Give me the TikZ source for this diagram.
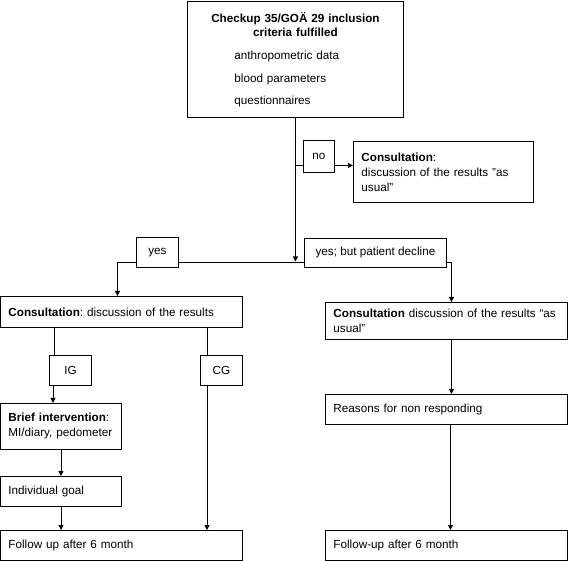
\documentclass[tikz,border=0pt]{standalone}
\usepackage{fontspec}
\setmainfont{Liberation Sans}
\usetikzlibrary{arrows.meta}
\frenchspacing

\begin{document}
\begin{tikzpicture}[
  x=1pt, y=-1pt,
  every node/.style={draw, line width=0.9pt, inner xsep=8pt, inner ysep=3pt,
    font=\fontsize{11.7}{15}\selectfont},
  boxText/.style={anchor=north west, minimum width=#1, text width=#1-16pt, align=left},
  boxLabel/.style={anchor=north west, align=center, inner xsep=0pt},
  arrowLine/.style={line width=0.9pt, -{Triangle[length=5pt,width=5pt]}},
  plainLine/.style={line width=0.9pt}
  ]
  \useasboundingbox (0,0) rectangle (568,561);

  % caixa de entrada
  \node[boxText=216pt, minimum height=116pt, align=center,
        font=\fontsize{11.7}{14}\selectfont] (check) at (187,1)
    {{\bfseries Checkup 35/GOÄ 29 inclusion}\\{\bfseries criteria fulfilled}\\[9pt]
     \makebox[200pt][l]{\hspace*{39pt}anthropometric data}\\[9pt]
     \makebox[200pt][l]{\hspace*{39pt}blood parameters}\\[8pt]
     \makebox[200pt][l]{\hspace*{39pt}questionnaires}};

  \node[boxLabel, minimum width=31pt, minimum height=32pt] (no) at (303,140) {no};
  \node[boxText=180pt, minimum height=61pt] (usual) at (353,141)
    {\textbf{Consultation}:\\discussion of the results "as\\usual"};

  \node[boxLabel, minimum width=42pt, minimum height=30pt] (yes) at (136,237) {yes};
  \node[boxLabel, minimum width=142pt, minimum height=29pt] (yesbut) at (304,238) {yes; but patient decline};

  % ramo esquerdo
  \node[boxText=242pt, minimum height=31pt] (consL) at (0,296)
    {\textbf{Consultation}: discussion of the results};
  \node[boxLabel, minimum width=42pt, minimum height=30pt] (ig) at (49,355) {IG};
  \node[boxLabel, minimum width=42pt, minimum height=30pt] (cg) at (200,355) {CG};
  \node[boxText=121pt, minimum height=46pt] (brief) at (0,403)
    {\textbf{Brief intervention}:\\MI/diary, pedometer};
  \node[boxText=121pt, minimum height=30pt] (goal) at (0,476) {Individual goal};
  \node[boxText=242pt, minimum height=30pt] (followL) at (0,530) {Follow up after 6 month};

  % ramo direito
  \node[boxText=242pt, minimum height=37pt] (consR) at (325,302)
    {\textbf{Consultation} discussion of the results “as\\usual"};
  \node[boxText=242pt, minimum height=30pt] (reasons) at (325,394) {Reasons for non responding};
  \node[boxText=242pt, minimum height=30pt] (followR) at (325,530) {Follow-up after 6 month};

  \coordinate (noLevel) at ([yshift=-9pt]no.west);
  \coordinate (yesLevel) at ([yshift=-10pt]yes.east);

  % conexoes
  \draw[plainLine] (check.south |- noLevel) -- (noLevel);
  \draw[arrowLine] ([yshift=-9pt]no.east) -- (usual.west |- noLevel);
  \draw[arrowLine, shorten >=1pt] (check.south) -- (check.south |- yesLevel);
  \draw[plainLine] (yesLevel) -- (yesbut.west |- yesLevel);
  \draw[arrowLine] (yes.west |- yesLevel) -| ([xshift=-4pt]consL.north);
  \draw[arrowLine] (yesbut.east |- yesLevel) -| ([xshift=5pt]consR.north);
  \draw[arrowLine] ([xshift=5pt]consR.south) -- ([xshift=5pt]reasons.north);
  \draw[arrowLine] ([xshift=4pt]reasons.south) -- ([xshift=4pt]followR.north);
  \draw[plainLine] ([xshift=5pt]ig.north west |- consL.south) -- ([xshift=5pt]ig.north west);
  \draw[plainLine] ([xshift=7pt]cg.north west |- consL.south) -- ([xshift=7pt]cg.north west);
  \draw[arrowLine] ([xshift=4pt]ig.south west) -- ([xshift=4pt]ig.south west |- brief.north);
  \draw[arrowLine] (brief.south) -- (goal.north);
  \draw[arrowLine] (goal.south) -- (goal.south |- followL.north);
  \draw[arrowLine] ([xshift=7pt]cg.south west) -- ([xshift=7pt]cg.south west |- followL.north);
\end{tikzpicture}
\end{document}
